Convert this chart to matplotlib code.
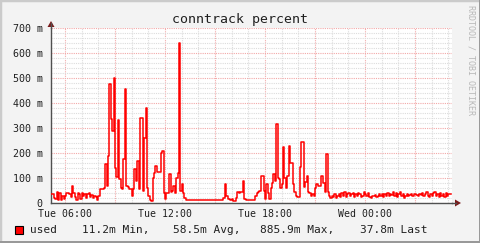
import matplotlib
matplotlib.use("Agg")
import matplotlib.pyplot as plt
import matplotlib.patches as mpatches
from matplotlib.ticker import MultipleLocator, FuncFormatter

# conntrack usage, 5 minute samples starting Tue 05:10 (values in milli-percent)
start_hour = 5 + 10 / 60
step_hours = 5 / 60
used = [
    38, 35, 20, 15, 45, 12, 40, 12, 28, 18,
    30, 40, 42, 35, 25, 68, 40, 25, 12, 40,
    38, 15, 40, 30, 38, 20, 38, 40, 25, 32,
    20, 30, 25, 12, 30,
    55, 55, 55, 60, 155, 70, 190, 475, 335, 290,
    500, 140, 105, 330, 95, 60, 55, 175, 455, 70,
    65, 55, 55, 30, 55, 135, 90, 170, 55, 340,
    340, 50, 260, 380, 60, 30, 12, 10, 100, 120,
    150, 125, 125, 125, 200, 210, 40, 15, 40, 40,
    115, 45, 50, 70, 40, 100, 120, 640, 50, 75,
    40, 20,
    12, 12, 11, 12, 12, 12, 13, 12, 12, 12,
    12, 11, 12, 12, 12, 13, 12, 12, 12, 12,
    11, 12, 12, 12, 12, 12, 12,
    20, 75, 30, 15, 15, 12, 15, 10, 10, 20,
    45, 40, 45, 45, 90, 15,
    12, 12, 12, 12, 12, 12, 12,
    30, 40, 45, 50, 110, 110, 50, 15, 75, 40,
    15, 60, 80, 115, 90, 315, 100, 95, 60, 75,
    225, 100, 60, 110, 230, 160, 160, 75, 45, 30,
    25, 25, 145, 245, 245, 65, 85, 110, 45, 40,
    30, 35, 30, 60, 75, 70, 70, 110, 110, 80,
    45, 195, 45, 30, 20,
    30, 25, 35, 20, 30, 35, 25, 40, 30, 45,
    25, 35, 40, 30, 35, 40, 25, 35, 30, 40,
    35, 25, 30, 45, 35, 30, 40, 25, 20, 30,
    28, 32, 25, 30, 35, 30, 38, 25, 35, 30,
    40, 30, 35, 32, 45, 30, 40, 25, 35, 45,
    30, 35, 20, 30, 35, 30, 32, 35, 30, 35,
    38, 33, 30, 35, 32, 40, 30, 35, 45, 30,
    25, 35, 30, 40, 45, 30, 35, 25, 40, 30,
    35, 25, 40, 30, 35, 38,
]
legend_stats = ["11.2m Min,", "58.5m Avg,", "885.9m Max,", "37.8m Last"]
title = "conntrack percent"

W, H = 481, 243
MONO = "DejaVu Sans Mono"


def px(x, y):
    return (x / W, 1 - y / H)


fig = plt.figure(figsize=(W / 100, H / 100), dpi=100, facecolor="#f3f3f3")

# rrdtool style bevel border
fig.add_artist(mpatches.Rectangle((0, 0), 1, 1, transform=fig.transFigure,
                                  fill=False, edgecolor="#cbcbcb", lw=2.5))
fig.add_artist(mpatches.Rectangle(px(W - 2, H), 2 / W, 1, transform=fig.transFigure,
                                  color="#999999", lw=0))
fig.add_artist(mpatches.Rectangle(px(0, H), 1, 2 / H, transform=fig.transFigure,
                                  color="#999999", lw=0))

left, right, top, bottom = 51, 452, 28, 203
ax = fig.add_axes([left / W, (H - bottom) / H, (right - left) / W, (bottom - top) / H])
ax.set_facecolor("white")

xs = [start_hour + i * step_hours for i in range(len(used))]
xs.append(xs[-1] + step_hours)
ys = used + [used[-1]]
ax.plot(xs, ys, drawstyle="steps-post", color="#ff0000", lw=1.1, zorder=5)

ax.set_xlim(start_hour - 0.01, 29.22)
ax.set_ylim(0, 700)

ax.xaxis.set_major_locator(MultipleLocator(3))
ax.xaxis.set_minor_locator(MultipleLocator(1))
ax.yaxis.set_major_locator(MultipleLocator(100))
ax.yaxis.set_minor_locator(MultipleLocator(20))


def xfmt(v, pos):
    h = int(round(v))
    if h % 6:
        return ""
    day = "Tue" if h < 24 else "Wed"
    return f"{day} {h % 24:02d}:00"


def yfmt(v, pos):
    return "0" if v == 0 else f"{int(v)} m"


ax.xaxis.set_major_formatter(FuncFormatter(xfmt))
ax.yaxis.set_major_formatter(FuncFormatter(yfmt))

ax.grid(which="minor", color="#dcdcdc", ls=(0, (1, 1)), lw=0.8, zorder=1)
ax.grid(which="major", color="#f2a8a8", ls=(0, (1, 1)), lw=0.8, zorder=2)
ax.set_axisbelow(True)

for s in ("top", "right"):
    ax.spines[s].set_visible(False)
for s in ("left", "bottom"):
    ax.spines[s].set_color("#505050")
    ax.spines[s].set_linewidth(1.0)

ax.tick_params(which="both", length=0, colors="#202020")
ax.tick_params(axis="x", labelsize=7.1, pad=4)
ax.tick_params(axis="y", labelsize=7.2, pad=6)
for lab in ax.get_xticklabels() + ax.get_yticklabels():
    lab.set_fontfamily(MONO)

# axis extensions and arrows
fig.add_artist(plt.Line2D([px(right, 0)[0], px(456, 0)[0]], [px(0, bottom)[1]] * 2,
                          transform=fig.transFigure, color="#505050", lw=1.0))
fig.add_artist(plt.Line2D([px(left, 0)[0]] * 2, [px(0, top)[1], px(0, 23)[1]],
                          transform=fig.transFigure, color="#505050", lw=1.0))
fig.add_artist(mpatches.Polygon([px(455, bottom - 3.5), px(461, bottom), px(455, bottom + 3.5)],
                                transform=fig.transFigure, color="#7a1c1c", lw=0))
fig.add_artist(mpatches.Polygon([px(left - 3.5, 27), px(left, 21), px(left + 3.5, 27)],
                                transform=fig.transFigure, color="#7a1c1c", lw=0))

fig.text(*px(240, 19), title, family=MONO, fontsize=9.5, ha="center", va="center",
         color="#202020")
fig.text(*px(471, 5), "RRDTOOL / TOBI OETIKER", family=MONO, fontsize=6, rotation=270,
         ha="center", va="top", color="#b8b8b8")

# legend
fig.add_artist(mpatches.Rectangle(px(15, 234), 8 / W, 8 / H, transform=fig.transFigure,
                                  facecolor="#ff0000", edgecolor="black", lw=0.8))
fig.text(*px(30, 229.5), "used", family=MONO, fontsize=8, va="center", color="#202020")
for xpos, s in zip([81.7, 173.3, 260, 360], legend_stats):
    fig.text(*px(xpos, 229.5), s, family=MONO, fontsize=8, va="center", color="#202020")

fig.savefig("out.png", dpi=100, facecolor=fig.get_facecolor())
